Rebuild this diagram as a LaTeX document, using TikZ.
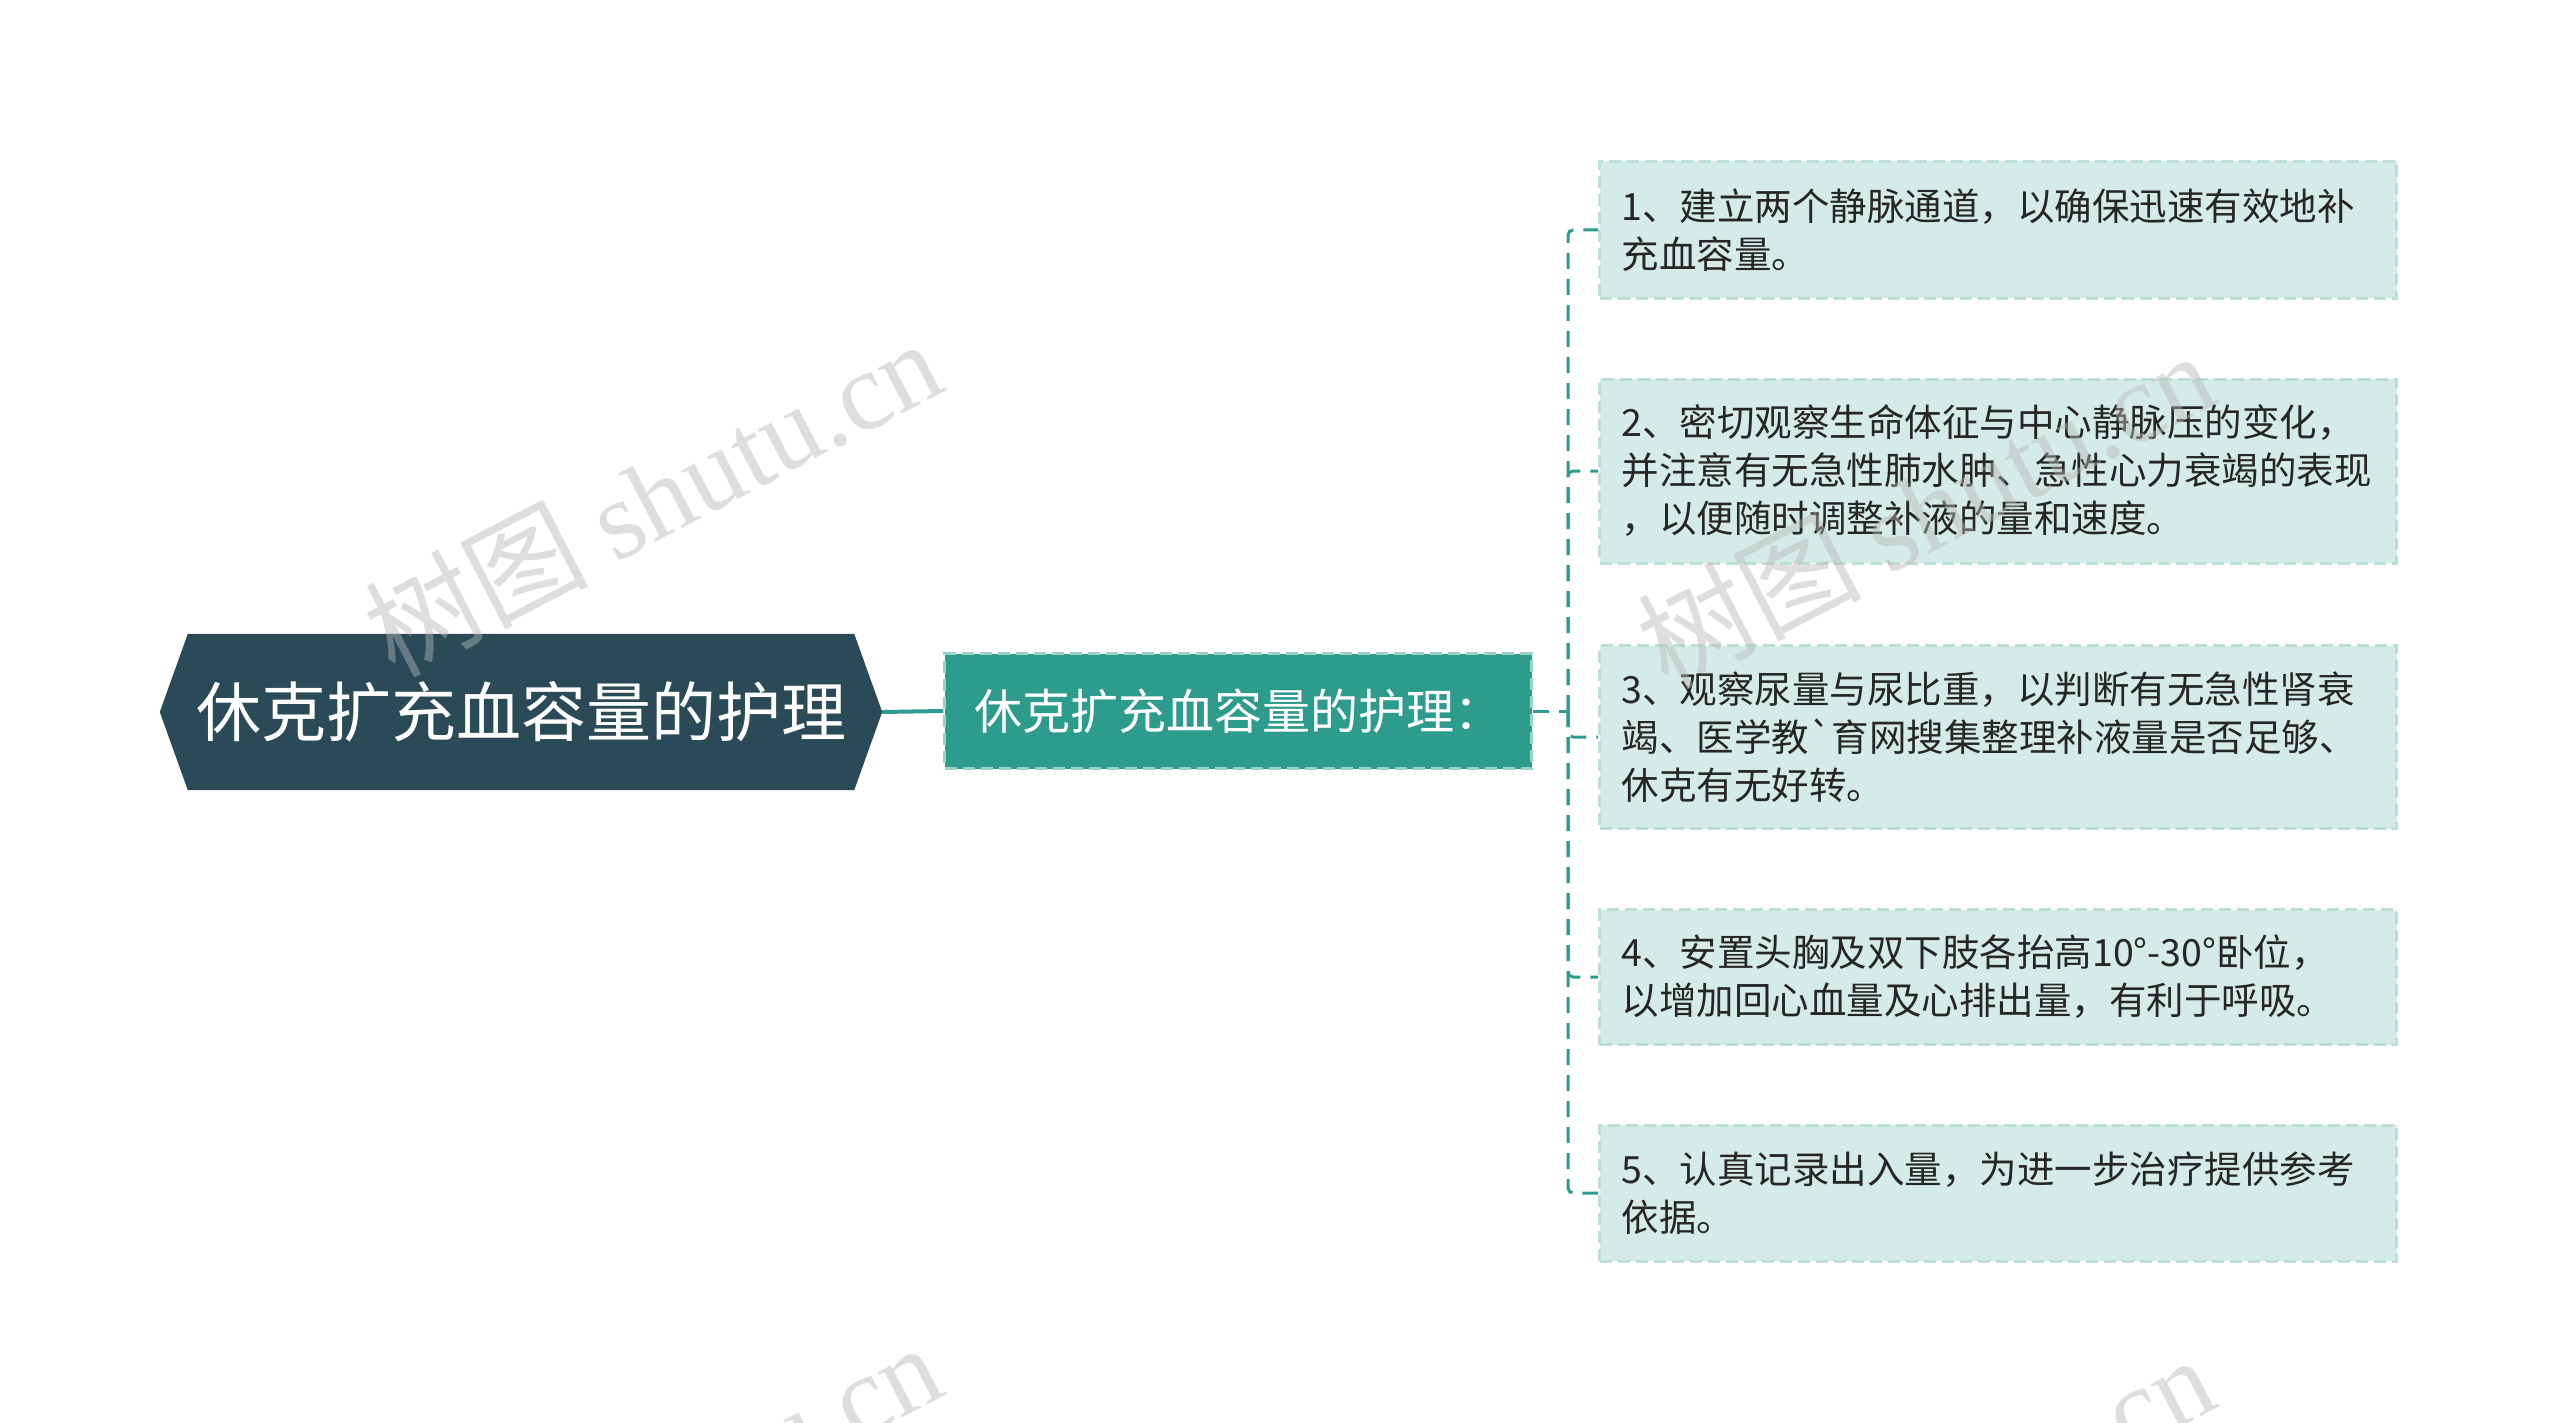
\documentclass[tikz,border=0pt]{standalone}
\usepackage{fontspec}
\setmainfont{Noto Sans CJK SC}[Ligatures=TeXOff]
\newfontfamily\wmlatin{Liberation Serif}
\usetikzlibrary{backgrounds}
\definecolor{rootfill}{HTML}{294A56}
\definecolor{tealc}{HTML}{2E9C8D}
\definecolor{midborder}{HTML}{9AD3CA}
\definecolor{boxfill}{HTML}{D5EBE8}
\definecolor{boxborder}{HTML}{BCDFD9}
\definecolor{boxtext}{HTML}{262626}
\definecolor{wmgray}{HTML}{B8B8B8}
\tikzset{
  rootnode/.style={text=white, minimum width=722pt, minimum height=156pt, inner sep=0pt,
    font=\fontsize{65pt}{78pt}\selectfont},
  midnode/.style={fill=tealc, draw=midborder, dash pattern=on 12pt off 6pt, line width=2.5pt,
    text=white, minimum width=587pt, minimum height=115pt, inner sep=0pt,
    font=\fontsize{48pt}{58pt}\selectfont},
  itembox/.style={fill=boxfill, draw=boxborder, dash pattern=on 12pt off 6pt, line width=3pt,
    text=boxtext, minimum width=797pt, inner xsep=22pt, inner ysep=0pt, text width=753pt,
    align=left, font=\fontsize{37.5pt}{48pt}\selectfont},
  link/.style={draw=tealc, line width=3pt, dash pattern=on 16pt off 10pt, rounded corners=5pt},
  wmark/.style={text=wmgray, text opacity=0.45, rotate=27.5, inner sep=0pt,
    font=\fontsize{112pt}{130pt}\selectfont}
}
\begin{document}
\begin{tikzpicture}[x=1pt,y=-1pt]
\useasboundingbox (0,0) rectangle (2560,1423);
\begin{scope}[on background layer]
\fill[white] (0,0) rectangle (2560,1423);
\end{scope}

% root
\node[rootnode] (root) at (521,712) {休克扩充血容量的护理};
\begin{scope}[on background layer]
\fill[rootfill] (root.west) -- ([xshift=28pt]root.north west) -- ([xshift=-28pt]root.north east)
  -- (root.east) -- ([xshift=-28pt]root.south east) -- ([xshift=28pt]root.south west) -- cycle;
\end{scope}

% middle
\node[midnode] (mid) at (1238,711) {休克扩充血容量的护理：};

% items
\node[itembox, minimum height=137pt] (b1) at (1998,230) {1、建立两个静脉通道，以确保迅速有效地补\\充血容量。};
\node[itembox, minimum height=184pt] (b2) at (1998,471) {2、密切观察生命体征与中心静脉压的变化，\\并注意有无急性肺水肿、急性心力衰竭的表现\\，以便随时调整补液的量和速度。};
\node[itembox, minimum height=183pt] (b3) at (1998,737) {3、观察尿量与尿比重，以判断有无急性肾衰\\竭、医学教\symbol{96}育网搜集整理补液量是否足够、\\休克有无好转。};
\node[itembox, minimum height=135pt] (b4) at (1998,977) {4、安置头胸及双下肢各抬高10°-30°卧位，\\以增加回心血量及心排出量，有利于呼吸。};
\node[itembox, minimum height=136pt] (b5) at (1998,1193) {5、认真记录出入量，为进一步治疗提供参考\\依据。};

% connectors
\draw[draw=tealc, line width=4pt] (root.east) -- (mid.west);
\coordinate (tr) at (1568,711);
\draw[link] (mid.east) -- (tr);
\draw[link] (tr) |- (b1.west);
\draw[link] (tr) |- (b2.west);
\draw[link] (tr) |- (b3.west);
\draw[link] (tr) |- (b4.west);
\draw[link] (tr) |- (b5.west);

% watermarks
\begin{scope}
\clip (0,0) rectangle (2560,1423);
\node[wmark] (w1) at (652,496) {树图 {\wmlatin shutu.cn}};
\node[wmark] (w2) at (1925,508) {树图 {\wmlatin shutu.cn}};
\node[wmark] (w3) at (652,1500) {树图 {\wmlatin shutu.cn}};
\node[wmark] (w4) at (1925,1512) {树图 {\wmlatin shutu.cn}};
\end{scope}
\end{tikzpicture}
\end{document}
